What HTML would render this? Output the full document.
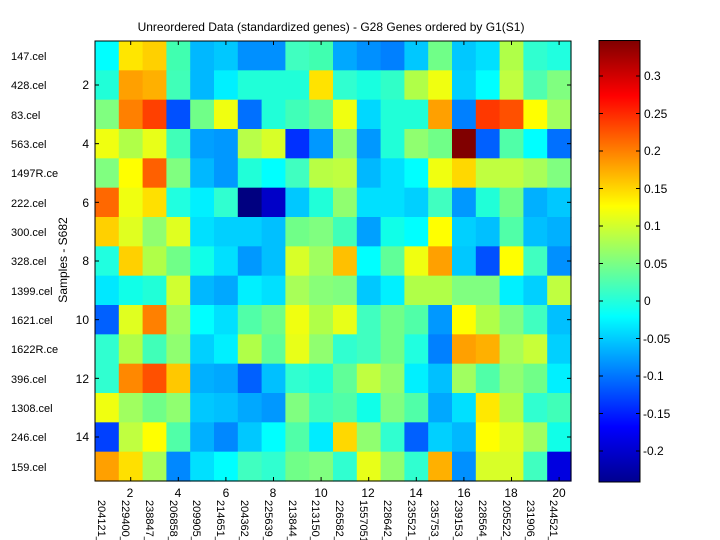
<!DOCTYPE html>
<html><head><meta charset="utf-8"><style>
html,body{margin:0;padding:0;background:#fff;width:720px;height:540px;overflow:hidden}
svg text{font-family:"Liberation Sans",Arial,sans-serif;fill:#000}
</style></head><body>
<svg id="s" width="720" height="540" xmlns="http://www.w3.org/2000/svg">
<defs><linearGradient id="jet" x1="0" y1="1" x2="0" y2="0">
<stop offset="0" stop-color="#00008f"/><stop offset="0.125" stop-color="#0000ff"/>
<stop offset="0.375" stop-color="#00ffff"/><stop offset="0.625" stop-color="#ffff00"/>
<stop offset="0.875" stop-color="#ff0000"/><stop offset="1" stop-color="#800000"/></linearGradient></defs>
<g id="cells"></g>
<rect x="95" y="41" width="476" height="440" fill="none" stroke="#000" stroke-width="1"/>
<g id="ticks" stroke="#000"></g>
<text x="331" y="31" font-size="12" text-anchor="middle">Unreordered Data (standardized genes) - G28 Genes ordered by G1(S1)</text>
<g font-size="11">
<text x="11" y="60">147.cel</text><text x="11" y="89">428.cel</text><text x="11" y="119">83.cel</text>
<text x="11" y="148">563.cel</text><text x="11" y="177">1497R.ce</text><text x="11" y="207">222.cel</text>
<text x="11" y="236">300.cel</text><text x="11" y="265">328.cel</text><text x="11" y="295">1399.cel</text>
<text x="11" y="324">1621.cel</text><text x="11" y="353">1622R.ce</text><text x="11" y="383">396.cel</text>
<text x="11" y="412">1308.cel</text><text x="11" y="441">246.cel</text><text x="11" y="471">159.cel</text>
</g>
<g font-size="12" text-anchor="end">
<text x="89" y="89">2</text><text x="89" y="148">4</text><text x="89" y="207">6</text><text x="89" y="265">8</text>
<text x="89" y="324">10</text><text x="89" y="383">12</text><text x="89" y="441">14</text>
</g>
<text transform="translate(67,260) rotate(-90)" font-size="12" text-anchor="middle">Samples - S682</text>
<g font-size="12" text-anchor="middle">
<text x="130" y="497">2</text><text x="178" y="497">4</text><text x="226" y="497">6</text><text x="273" y="497">8</text>
<text x="321" y="497">10</text><text x="368" y="497">12</text><text x="416" y="497">14</text><text x="464" y="497">16</text>
<text x="511" y="497">18</text><text x="559" y="497">20</text>
</g>
<g font-size="11">
<text transform="translate(98,500) rotate(90)">204121_</text>
<text transform="translate(122,500) rotate(90)">229400_</text>
<text transform="translate(146,500) rotate(90)">238847_</text>
<text transform="translate(170,500) rotate(90)">206858_</text>
<text transform="translate(193,500) rotate(90)">209905_</text>
<text transform="translate(217,500) rotate(90)">214651_</text>
<text transform="translate(241,500) rotate(90)">204362_</text>
<text transform="translate(265,500) rotate(90)">225639_</text>
<text transform="translate(289,500) rotate(90)">213844_</text>
<text transform="translate(312,500) rotate(90)">213150_</text>
<text transform="translate(336,500) rotate(90)">226582_</text>
<text transform="translate(360,500) rotate(90)">1557051</text>
<text transform="translate(384,500) rotate(90)">228642_</text>
<text transform="translate(408,500) rotate(90)">235521_</text>
<text transform="translate(431,500) rotate(90)">235753_</text>
<text transform="translate(455,500) rotate(90)">239153_</text>
<text transform="translate(479,500) rotate(90)">228564_</text>
<text transform="translate(503,500) rotate(90)">205522_</text>
<text transform="translate(527,500) rotate(90)">231906_</text>
<text transform="translate(550,500) rotate(90)">244521_</text>
</g>
<rect x="599" y="40.5" width="41" height="441.5" fill="url(#jet)" stroke="#000" stroke-width="1"/>
<g id="cbt" stroke="#000"></g>
<g font-size="12">
<text x="644" y="80">0.3</text><text x="644" y="118">0.25</text><text x="644" y="155">0.2</text>
<text x="644" y="193">0.15</text><text x="644" y="230">0.1</text><text x="644" y="268">0.05</text>
<text x="644" y="305">0</text><text x="643" y="343">-0.05</text><text x="643" y="380">-0.1</text>
<text x="643" y="418">-0.15</text><text x="643" y="455">-0.2</text>
</g>
</svg>
<script>
var D=[
"00ffff ffe600 ffd000 40ffb0 00b8ff 00c8ff 0090ff 0090ff 40ffc0 40ffb0 00a8ff 0090ff 0080ff 00c8ff 70ff88 00c8ff 00e0ff b0ff48 30ffd0 20ffe0",
"20ffd8 ffa000 ffb000 40ffb8 00b8ff 00f0ff 20ffd8 20ffd8 20ffd8 ffe300 30ffd0 18ffe0 30ffc8 b0ff48 f0ff10 00d0ff 00ffff c0ff40 50ffb0 80ff80",
"80ff80 ff8000 ff4000 0050ff 70ff88 f0ff10 0070ff 20ffd8 40ffb8 60ff98 f0ff10 00d8ff 20ffd8 20ffd8 ffa000 0080ff ff3800 ff5000 ffff00 a0ff60",
"f0ff10 b0ff48 e8ff18 40ffb8 00a0ff 0098ff b8ff48 d8ff28 0030ff 0098ff 90ff70 0098ff 20ffd8 90ff70 70ff88 800000 0060ff 50ffa8 00ffff 0070ff",
"80ff80 ffff00 ff6000 80ff80 00b8ff 0098ff 20ffd8 00ffff 40ffc0 b8ff44 c0ff40 00b8ff 00e0ff 00ffff f0ff10 ffd800 c0ff40 c0ff40 a8ff58 80ff80",
"ff6800 f0ff10 ffe000 20ffe0 00f0ff 30ffd0 000080 0000c8 00c8ff 20ffd8 90ff70 00e0ff 00e0ff 00d0ff 40ffc0 0098ff 20ffd8 70ff88 00b0ff 00c8ff",
"ffd000 e0ff20 90ff70 e0ff20 00e0ff 00d0ff 00d0ff 00c0ff 70ff88 80ff80 40ffb8 00a0ff 10ffe8 00ffff ffff00 00d0ff 00c0ff 50ffa8 00c0ff 00b0ff",
"20ffe0 ffd000 b0ff48 70ff88 10ffe8 00e0ff 0098ff 00c0ff d8ff28 a0ff60 ffc000 00ffff 60ff98 f0ff10 ffa000 00c8ff 0050ff ffff00 40ffc0 0090ff",
"00e8ff 10ffe8 20ffd8 d0ff30 00b8ff 00a8ff 00f0ff 00e0ff a8ff58 88ff78 80ff80 00c8ff 00f0ff b0ff48 b0ff48 80ff80 80ff80 00f0ff 00d0ff c0ff40",
"0060ff e0ff20 ff8000 a0ff60 00ffff 00e0ff 50ffa8 70ff88 f0ff10 b0ff48 e8ff18 40ffc0 70ff88 50ffa8 0098ff ffff00 b0ff48 80ff80 40ffc0 00c0ff",
"30ffd0 b0ff48 40ffb8 90ff70 00d0ff 00f0ff b0ff48 60ff98 e8ff18 90ff70 30ffd0 40ffc0 70ff88 20ffe0 0080ff ffa000 ffb000 a8ff58 c8ff38 00d0ff",
"30ffd0 ff8800 ff5000 ffc800 00b0ff 00a8ff 0060ff 00c0ff 30ffd0 20ffd8 60ff98 c0ff40 90ff70 00f0ff 00c0ff a0ff60 50ffa8 90ff70 70ff88 00f0ff",
"f0ff10 a0ff60 70ff88 90ff70 00c8ff 00c0ff 00a8ff 0098ff 80ff80 40ffbc 50ffa8 10ffe8 80ff80 50ffa8 00a8ff 00e0ff ffe800 b0ff48 30ffd0 40ffb8",
"0040ff c0ff40 ffff00 50ffa8 00b0ff 0088ff 00c8ff 00ffff 50ffa8 00ecff ffd800 90ff70 30ffd0 0060ff 00d0ff 00b8ff ffff00 e0ff20 a0ff60 10ffe8",
"ffa000 ffe000 a8ff58 0088ff 00e0ff 00ffff 40ffc0 30ffd0 70ff88 80ff80 30ffd0 e8ff18 90ff70 30ffd0 ffb000 0090ff d8ff28 d8ff28 40ffc0 0000e0"];
var ns="http://www.w3.org/2000/svg",g=document.getElementById("cells"),cw=476/20,ch=440/15;
D.forEach(function(r,i){r.split(" ").forEach(function(c,j){var e=document.createElementNS(ns,"rect");
e.setAttribute("x",95+j*cw);e.setAttribute("y",41+i*ch);e.setAttribute("width",cw+0.6);e.setAttribute("height",ch+0.6);
e.setAttribute("fill","#"+c);g.appendChild(e);});});
var t=document.getElementById("ticks"),s="";
for(var j=2;j<=20;j+=2){var x=95+(j-0.5)*cw;s+='<line x1="'+x+'" y1="41" x2="'+x+'" y2="45"/><line x1="'+x+'" y1="481" x2="'+x+'" y2="477"/>';}
for(var i=2;i<=14;i+=2){var y=41+(i-0.5)*ch;s+='<line x1="95" y1="'+y+'" x2="99" y2="'+y+'"/><line x1="571" y1="'+y+'" x2="567" y2="'+y+'"/>';}
t.innerHTML=s;
var c=document.getElementById("cbt"),u="";
for(var k=0;k<11;k++){var y=76+k*37.5;u+='<line x1="599" y1="'+y+'" x2="603" y2="'+y+'"/><line x1="640" y1="'+y+'" x2="636" y2="'+y+'"/>';}
c.innerHTML=u;
</script>
</body></html>
